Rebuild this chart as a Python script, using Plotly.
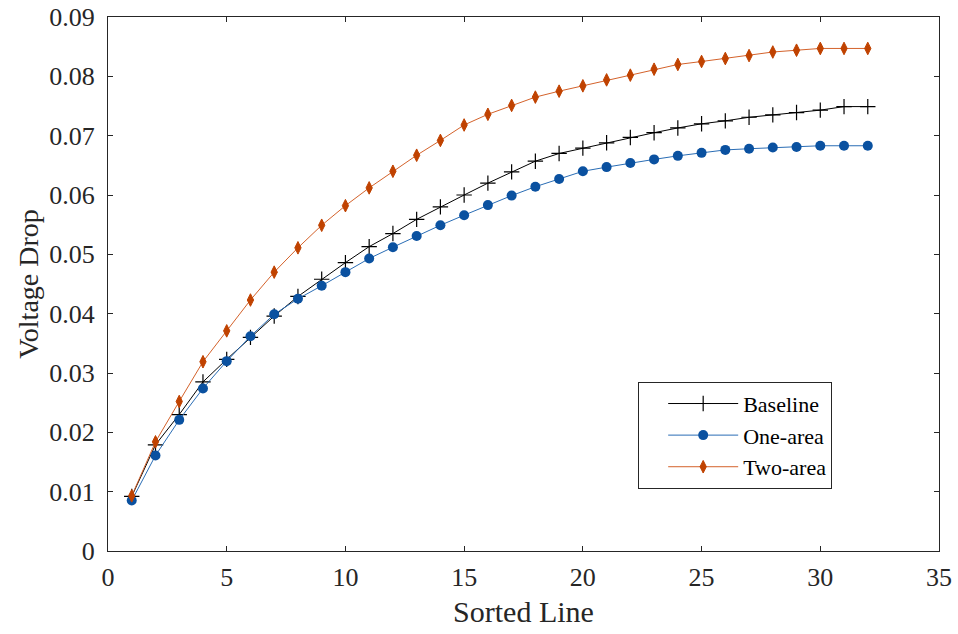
import plotly.graph_objects as go

sorted_line = list(range(1, 33))

baseline = [0.0092, 0.0179, 0.0230, 0.0285, 0.0323, 0.0360, 0.0396, 0.0429,
            0.0458, 0.0486, 0.0513, 0.0535, 0.0559, 0.0580, 0.0600, 0.0620,
            0.0639, 0.0657, 0.0670, 0.0679, 0.0688, 0.0697, 0.0705, 0.0713,
            0.0720, 0.0725, 0.0731, 0.0735, 0.0739, 0.0743, 0.0749, 0.0749]

one_area = [0.0085, 0.0161, 0.0221, 0.0274, 0.0320, 0.0362, 0.0399, 0.0425,
            0.0447, 0.0470, 0.0493, 0.0512, 0.0531, 0.0549, 0.0566, 0.0583,
            0.0599, 0.0614, 0.0627, 0.0640, 0.0647, 0.0654, 0.0660, 0.0666,
            0.0671, 0.0676, 0.0678, 0.0680, 0.0681, 0.0683, 0.0683, 0.0683]

two_area = [0.0093, 0.0184, 0.0252, 0.0319, 0.0371, 0.0423, 0.0470, 0.0511,
            0.0549, 0.0582, 0.0612, 0.0640, 0.0667, 0.0692, 0.0718, 0.0736,
            0.0751, 0.0765, 0.0775, 0.0784, 0.0794, 0.0802, 0.0812, 0.0820,
            0.0825, 0.0830, 0.0835, 0.0841, 0.0844, 0.0847, 0.0847, 0.0847]

x_ticks = [0, 5, 10, 15, 20, 25, 30, 35]
y_ticks = [0, 0.01, 0.02, 0.03, 0.04, 0.05, 0.06, 0.07, 0.08, 0.09]
y_tick_text = ["0", "0.01", "0.02", "0.03", "0.04", "0.05", "0.06", "0.07", "0.08", "0.09"]

FONT = "Liberation Serif, Times New Roman, Nimbus Roman, DejaVu Serif, serif"
AX = "#262626"

fig = go.Figure()
fig.add_trace(go.Scatter(
    x=sorted_line, y=baseline, name="Baseline", mode="lines+markers",
    line=dict(color="#000000", width=1),
    marker=dict(symbol="cross-thin", size=11, color="#000000",
                line=dict(color="#000000", width=1.2)),
))
fig.add_trace(go.Scatter(
    x=sorted_line, y=one_area, name="One-area", mode="lines+markers",
    line=dict(color="#2a6db5", width=1),
    marker=dict(symbol="circle", size=10, color="#0a51a0", line=dict(width=0)),
))
fig.add_trace(go.Scatter(
    x=sorted_line, y=two_area, name="Two-area", mode="lines+markers",
    line=dict(color="#d4622b", width=1),
    marker=dict(symbol="diamond-tall", size=9, color="#c04200",
                line=dict(color="#c04200", width=1)),
))

axis_common = dict(
    showline=True, linecolor=AX, linewidth=1, mirror="ticks",
    ticks="inside", ticklen=5, tickcolor=AX, tickwidth=1,
    showgrid=False, zeroline=False,
    ticklabeloverflow="allow",
    tickfont=dict(family=FONT, size=26, color=AX),
)

fig.update_layout(
    width=958, height=634,
    margin=dict(l=108, r=19, t=17, b=83),
    paper_bgcolor="white", plot_bgcolor="white",
    font=dict(family=FONT, color=AX),
    showlegend=True,
    legend=dict(
        x=0.638, y=0.317, xanchor="left", yanchor="top",
        bgcolor="white", bordercolor=AX, borderwidth=1,
        font=dict(family=FONT, size=22, color="#000000"),
        tracegroupgap=0, itemwidth=70, indentation=24,
    ),
    xaxis=dict(range=[0, 35], tickvals=x_ticks, ticklabelstandoff=3, automargin="height",
               title=dict(text="Sorted Line", font=dict(family=FONT, size=30, color=AX), standoff=9),
               **axis_common),
    yaxis=dict(range=[0, 0.09], tickvals=y_ticks, ticktext=y_tick_text, ticklabelstandoff=7,
               automargin=False,
               title=dict(text="Voltage Drop", font=dict(family=FONT, size=28, color=AX), standoff=2),
               **axis_common),
)

fig.write_html("out.html", config={"displayModeBar": False},
               post_script="document.body.style.margin='0';")
